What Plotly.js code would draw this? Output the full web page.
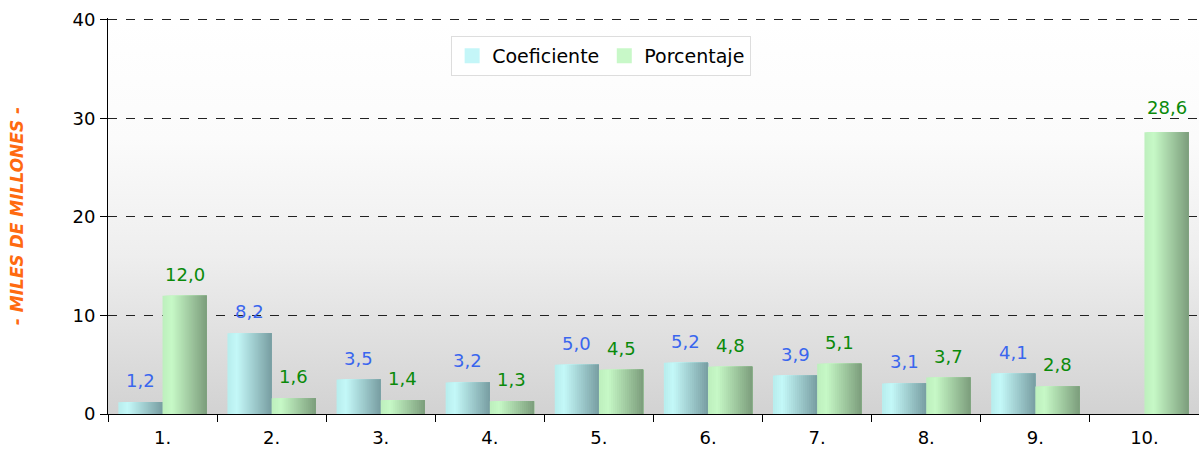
<!DOCTYPE html>
<html><head><meta charset="utf-8">
<script src="https://cdn.plot.ly/plotly-3.0.1.min.js"></script>
<style>html,body{margin:0;padding:0;background:#fff}#c{width:1199px;height:450px}</style>
</head><body><div id="c"></div>
<script>
const categories = ['1.','2.','3.','4.','5.','6.','7.','8.','9.','10.'];
const coeficiente = [1.2, 8.2, 3.5, 3.2, 5.0, 5.2, 3.9, 3.1, 4.1, 0];
const porcentaje = [12.0, 1.6, 1.4, 1.3, 4.5, 4.8, 5.1, 3.7, 2.8, 28.6];
const seriesNames = ['Coeficiente', 'Porcentaje'];

const fmt = v => v.toFixed(1).replace('.', ',');
const N = 22, BW = 0.405;
function lerp(a, b, t){ return Math.round(a + (b - a) * t); }
function col(c1, c2, t){ return 'rgb(' + lerp(c1[0],c2[0],t) + ',' + lerp(c1[1],c2[1],t) + ',' + lerp(c1[2],c2[2],t) + ')'; }
const traces = [];
const annotations = [];
function addSeries(vals, name, start, cL, cM, cR, legendCol, textCol){
  for (let i = 0; i < N; i++){
    const t = i / (N - 1);
    const c = t < 0.2 ? col(cL, cM, t/0.2) : col(cM, cR, (t-0.2)/0.8);
    const off = start + i*BW/N;
    traces.push({type:'bar', x:categories, y:vals, width:(start + BW) - off, offset:off,
      marker:{color:c, line:{width:0}}, showlegend:false, hoverinfo:'skip'});
  }
  traces.push({type:'scatter', mode:'markers', x:[null], y:[null], name:name, showlegend:true,
    marker:{color:legendCol, symbol:'square', size:15}});
  vals.forEach((v, i) => {
    if (v === 0) return;
    annotations.push({x:i + start + BW/2, y:v, xref:'x', yref:'y', text:fmt(v), showarrow:false,
      yanchor:'bottom', yshift:v > 20 ? 12 : 9, font:{color:textCol, size:18, family:'DejaVu Sans'}});
  });
}
addSeries(coeficiente, seriesNames[0], -BW, [184,238,238], [196,248,248], [122,160,164], '#c4f6f8', '#3a66ee');
addSeries(porcentaje, seriesNames[1], 0, [190,240,190], [198,248,198], [126,160,126], '#c8f8c8', '#0a8a0a');

const bg = 'data:image/svg+xml;utf8,' + encodeURIComponent(
  '<svg xmlns="http://www.w3.org/2000/svg" width="100" height="100" preserveAspectRatio="none">' +
  '<defs><linearGradient id="g" x1="0" y1="0" x2="0" y2="1">' +
  '<stop offset="0" stop-color="#ffffff"/><stop offset="0.3" stop-color="#fbfbfb"/>' +
  '<stop offset="0.6" stop-color="#eeeeee"/><stop offset="1" stop-color="#d2d2d2"/></linearGradient></defs>' +
  '<rect width="100" height="100" fill="url(#g)"/></svg>');

const layout = {
  width:1199, height:450,
  margin:{l:108, r:0, t:18, b:36},
  paper_bgcolor:'#ffffff', plot_bgcolor:'rgba(0,0,0,0)',
  barmode:'overlay',
  separators:',.',
  font:{family:'DejaVu Sans', size:18, color:'#000'},
  images:[{source:bg, xref:'paper', yref:'paper', x:0, y:0.995, sizex:1, sizey:0.995, sizing:'stretch', layer:'below'}],
  annotations:annotations,
  xaxis:{type:'category', tickson:'boundaries', ticks:'outside', ticklen:7, tickcolor:'#000',
    showline:true, linecolor:'#000', linewidth:1, showgrid:false, tickfont:{size:18, color:'#000'},
    ticklabelstandoff:7, range:[-0.5, 9.5]},
  yaxis:{range:[0,40.2], tickvals:[0,10,20,30,40], ticks:'outside', ticklen:7, tickcolor:'#000', showline:true,
    linecolor:'#000', linewidth:1, gridcolor:'#222', griddash:'dash', gridwidth:1,
    zeroline:false, tickfont:{size:18, color:'#000'}, ticklabelstandoff:1,
    title:{text:'<b><i>- MILES DE MILLONES -</i></b>', font:{size:17, color:'#ff6a10'}, standoff:44}},
  legend:{orientation:'h', x:0.452, xanchor:'center', y:0.955, yanchor:'top',
    bgcolor:'#ffffff', bordercolor:'#dddddd', borderwidth:1, font:{size:19, color:'#000'},
    traceorder:'normal', itemwidth:30},
  showlegend:true
};
Plotly.newPlot('c', traces, layout, {staticPlot:true, displayModeBar:false});
</script></body></html>
